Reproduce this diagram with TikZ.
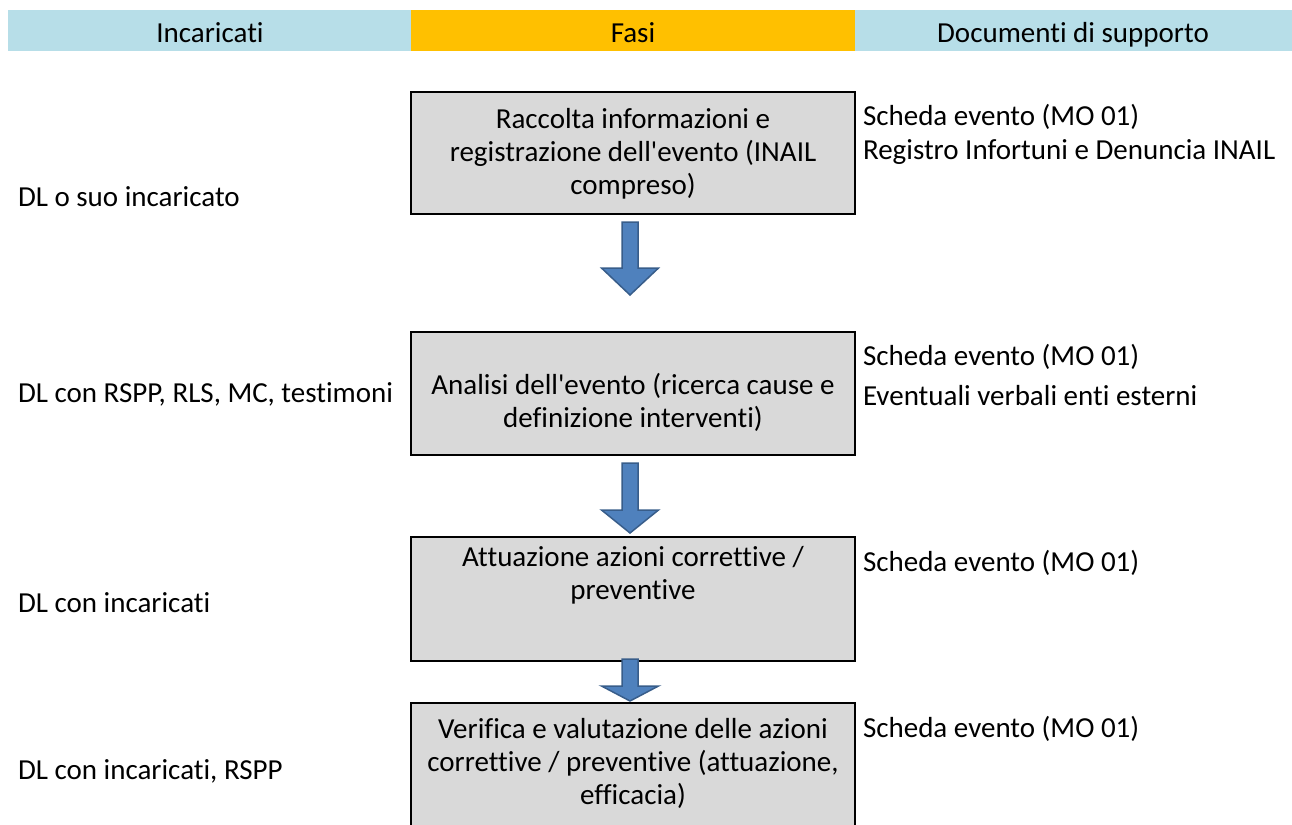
\documentclass[tikz,border=0pt]{standalone}
\usepackage{fontspec}
\setmainfont{Carlito}[Ligatures={TeXOff,CommonOff}]
\usetikzlibrary{calc}
\definecolor{hdrblue}{RGB}{183,222,232}
\definecolor{hdrorange}{RGB}{255,192,0}
\definecolor{boxgray}{RGB}{217,217,217}
\definecolor{arrfill}{RGB}{79,129,189}
\definecolor{arrdraw}{RGB}{56,93,138}
\newcommand{\blockarr}[3]{%
  \draw[blockarrow] ($(#1)+(-8,0)$) -- ++(16,0) -- ++(0,#2) -- ++(20.5,0)
    -- ++(-28.5,#3) -- ++(-28.5,-#3) -- ++(20.5,0) -- cycle;}
\begin{document}
\begin{tikzpicture}[x=1pt,y=-1pt,
  every node/.style={font=\fontsize{29}{33}\selectfont, inner sep=0pt, outer sep=0pt},
  hdr/.style={minimum height=41, anchor=north west},
  phase/.style={draw=black, line width=1.6, fill=boxgray, minimum width=444, anchor=north},
  ptext/.style={align=center, anchor=base},
  ltext/.style={anchor=base west},
  blockarrow/.style={fill=arrfill, draw=arrdraw, line width=1.5, line join=miter}]
\useasboundingbox (0,0) rectangle (1292,824);
% header
\node[hdr, fill=hdrblue, minimum width=403] (h1) at (8,10) {};
\node[hdr, fill=hdrorange, minimum width=444] (h2) at (411,10) {};
\node[hdr, fill=hdrblue, minimum width=437] (h3) at (855,10) {};
\node[anchor=base] (t1) at (210,43) {Incaricati};
\node[anchor=base] (t2) at (633,43) {Fasi};
\node[anchor=base] (t3) at (1073,43) {Documenti di supporto};
% phase boxes
\node[phase, minimum height=122] (b1) at (633,92) {};
\node[phase, minimum height=123] (b2) at (633,332) {};
\node[phase, minimum height=124] (b3) at (633,537) {};
\node[phase, minimum height=124] (b4) at (633,703) {};
% (base anchor = baseline of the last line)
\node[ptext] (p1) at (633,194) {Raccolta informazioni e\\registrazione dell'evento (INAIL\\compreso)};
\node[ptext] (p2) at (633,427) {Analisi dell'evento (ricerca cause e\\definizione interventi)};
\node[ptext] (p3) at (633,599) {Attuazione azioni correttive /\\preventive};
\node[ptext] (p4) at (633,804) {Verifica e valutazione delle azioni\\correttive / preventive (attuazione,\\efficacia)};
% arrows
\coordinate (a1) at ($(b1.south)+(-3,8)$);
\coordinate (a2) at ($(b2.south)+(-3,8)$);
\coordinate (a3) at ($(b3.south)+(-3,-2)$);
\blockarr{a1}{46}{27}
\blockarr{a2}{47}{23}
\blockarr{a3}{27}{15}
% incaricati
\node[ltext] (l1) at (18,206) {DL o suo incaricato};
\node[ltext] (l2) at (18,402) {DL con RSPP, RLS, MC, testimoni};
\node[ltext] (l3) at (18,612) {DL con incaricati};
\node[ltext] (l4) at (18,779) {DL con incaricati, RSPP};
% documenti
\node[ltext] (d1) at (863,125) {Scheda evento (MO 01)};
\node[ltext] (d2) at (863,159) {Registro Infortuni e Denuncia INAIL};
\node[ltext] (d3) at (863,365) {Scheda evento (MO 01)};
\node[ltext] (d4) at (863,405) {Eventuali verbali enti esterni};
\node[ltext] (d5) at (863,571) {Scheda evento (MO 01)};
\node[ltext] (d6) at (863,737) {Scheda evento (MO 01)};
\end{tikzpicture}
\end{document}
